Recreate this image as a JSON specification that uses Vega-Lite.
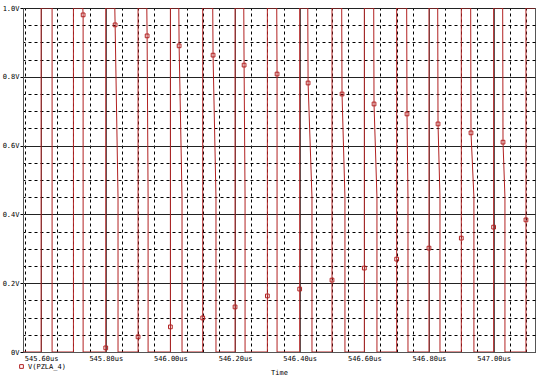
{
  "$schema": "https://vega.github.io/schema/vega-lite/v6.json",
  "width": 512,
  "height": 344,
  "autosize": {"type": "none"},
  "padding": {"left": 23, "top": 8, "right": 15, "bottom": 28},
  "background": "white",
  "config": {
    "view": {"stroke": "#555", "strokeWidth": 1},
    "font": "DejaVu Sans Mono"
  },
  "datasets": {
    "trace": [
      {"i": 0, "t": 545.544, "v": 0},
      {"i": 1, "t": 545.6, "v": 0}, {"i": 2, "t": 545.6, "v": 1}, {"i": 3, "t": 545.634, "v": 1}, {"i": 4, "t": 545.634, "v": 0},
      {"i": 5, "t": 545.7, "v": 0}, {"i": 6, "t": 545.7, "v": 1}, {"i": 7, "t": 545.729, "v": 1}, {"i": 8, "t": 545.73, "v": 0.98}, {"i": 9, "t": 545.73, "v": 0},
      {"i": 10, "t": 545.8, "v": 0}, {"i": 11, "t": 545.8, "v": 1}, {"i": 12, "t": 545.828, "v": 1}, {"i": 13, "t": 545.829, "v": 0.951}, {"i": 14, "t": 545.838, "v": 0.45}, {"i": 15, "t": 545.838, "v": 0},
      {"i": 16, "t": 545.9, "v": 0}, {"i": 17, "t": 545.9, "v": 1}, {"i": 18, "t": 545.927, "v": 1}, {"i": 19, "t": 545.928, "v": 0.919}, {"i": 20, "t": 545.931, "v": 0.45}, {"i": 21, "t": 545.931, "v": 0},
      {"i": 22, "t": 546.0, "v": 0}, {"i": 23, "t": 546.0, "v": 1}, {"i": 24, "t": 546.026, "v": 1}, {"i": 25, "t": 546.027, "v": 0.89}, {"i": 26, "t": 546.036, "v": 0.45}, {"i": 27, "t": 546.036, "v": 0},
      {"i": 28, "t": 546.1, "v": 0}, {"i": 29, "t": 546.1, "v": 1}, {"i": 30, "t": 546.131, "v": 1}, {"i": 31, "t": 546.132, "v": 0.863}, {"i": 32, "t": 546.141, "v": 0.45}, {"i": 33, "t": 546.141, "v": 0},
      {"i": 34, "t": 546.2, "v": 0}, {"i": 35, "t": 546.2, "v": 1}, {"i": 36, "t": 546.227, "v": 1}, {"i": 37, "t": 546.228, "v": 0.834}, {"i": 38, "t": 546.231, "v": 0.45}, {"i": 39, "t": 546.231, "v": 0},
      {"i": 40, "t": 546.3, "v": 0}, {"i": 41, "t": 546.3, "v": 1}, {"i": 42, "t": 546.329, "v": 1}, {"i": 43, "t": 546.33, "v": 0.808}, {"i": 44, "t": 546.33, "v": 0},
      {"i": 45, "t": 546.4, "v": 0}, {"i": 46, "t": 546.4, "v": 1}, {"i": 47, "t": 546.425, "v": 1}, {"i": 48, "t": 546.426, "v": 0.782}, {"i": 49, "t": 546.438, "v": 0.45}, {"i": 50, "t": 546.438, "v": 0},
      {"i": 51, "t": 546.5, "v": 0}, {"i": 52, "t": 546.5, "v": 1}, {"i": 53, "t": 546.53, "v": 1}, {"i": 54, "t": 546.531, "v": 0.75}, {"i": 55, "t": 546.54, "v": 0.45}, {"i": 56, "t": 546.54, "v": 0},
      {"i": 57, "t": 546.6, "v": 0}, {"i": 58, "t": 546.6, "v": 1}, {"i": 59, "t": 546.629, "v": 1}, {"i": 60, "t": 546.63, "v": 0.721}, {"i": 61, "t": 546.639, "v": 0.45}, {"i": 62, "t": 546.639, "v": 0},
      {"i": 63, "t": 546.7, "v": 0}, {"i": 64, "t": 546.7, "v": 1}, {"i": 65, "t": 546.731, "v": 1}, {"i": 66, "t": 546.732, "v": 0.692}, {"i": 67, "t": 546.735, "v": 0.45}, {"i": 68, "t": 546.735, "v": 0},
      {"i": 69, "t": 546.8, "v": 0}, {"i": 70, "t": 546.8, "v": 1}, {"i": 71, "t": 546.827, "v": 1}, {"i": 72, "t": 546.828, "v": 0.663}, {"i": 73, "t": 546.834, "v": 0.45}, {"i": 74, "t": 546.834, "v": 0},
      {"i": 75, "t": 546.9, "v": 0}, {"i": 76, "t": 546.9, "v": 1}, {"i": 77, "t": 546.929, "v": 1}, {"i": 78, "t": 546.93, "v": 0.637}, {"i": 79, "t": 546.939, "v": 0.45}, {"i": 80, "t": 546.939, "v": 0},
      {"i": 81, "t": 547.0, "v": 0}, {"i": 82, "t": 547.0, "v": 1}, {"i": 83, "t": 547.028, "v": 1}, {"i": 84, "t": 547.029, "v": 0.61}, {"i": 85, "t": 547.035, "v": 0.45}, {"i": 86, "t": 547.035, "v": 0},
      {"i": 87, "t": 547.1, "v": 0}, {"i": 88, "t": 547.1, "v": 1}, {"i": 89, "t": 547.128, "v": 1}
    ],
    "markers": [
      {"t": 545.73, "v": 0.98, "s": "V(PZLA_4)"},
      {"t": 545.829, "v": 0.951, "s": "V(PZLA_4)"},
      {"t": 545.928, "v": 0.919, "s": "V(PZLA_4)"},
      {"t": 546.027, "v": 0.89, "s": "V(PZLA_4)"},
      {"t": 546.132, "v": 0.863, "s": "V(PZLA_4)"},
      {"t": 546.228, "v": 0.834, "s": "V(PZLA_4)"},
      {"t": 546.33, "v": 0.808, "s": "V(PZLA_4)"},
      {"t": 546.426, "v": 0.782, "s": "V(PZLA_4)"},
      {"t": 546.531, "v": 0.75, "s": "V(PZLA_4)"},
      {"t": 546.63, "v": 0.721, "s": "V(PZLA_4)"},
      {"t": 546.732, "v": 0.692, "s": "V(PZLA_4)"},
      {"t": 546.828, "v": 0.663, "s": "V(PZLA_4)"},
      {"t": 546.93, "v": 0.637, "s": "V(PZLA_4)"},
      {"t": 547.029, "v": 0.61, "s": "V(PZLA_4)"},
      {"t": 545.8, "v": 0.012, "s": "V(PZLA_4)"},
      {"t": 545.9, "v": 0.044, "s": "V(PZLA_4)"},
      {"t": 546.0, "v": 0.073, "s": "V(PZLA_4)"},
      {"t": 546.1, "v": 0.099, "s": "V(PZLA_4)"},
      {"t": 546.2, "v": 0.131, "s": "V(PZLA_4)"},
      {"t": 546.3, "v": 0.163, "s": "V(PZLA_4)"},
      {"t": 546.4, "v": 0.183, "s": "V(PZLA_4)"},
      {"t": 546.5, "v": 0.209, "s": "V(PZLA_4)"},
      {"t": 546.6, "v": 0.244, "s": "V(PZLA_4)"},
      {"t": 546.7, "v": 0.27, "s": "V(PZLA_4)"},
      {"t": 546.8, "v": 0.302, "s": "V(PZLA_4)"},
      {"t": 546.9, "v": 0.331, "s": "V(PZLA_4)"},
      {"t": 547.0, "v": 0.363, "s": "V(PZLA_4)"},
      {"t": 547.1, "v": 0.384, "s": "V(PZLA_4)"}
    ]
  },
  "resolve": {"axis": {"x": "independent", "y": "independent"}},
  "layer": [
    {
      "data": {"name": "trace"},
      "mark": {"type": "line", "color": "#b22222", "strokeWidth": 1, "clip": true, "interpolate": "linear"},
      "encoding": {
        "x": {
          "field": "t", "type": "quantitative",
          "scale": {"domain": [545.544, 547.128], "nice": false, "zero": false},
          "axis": {
            "orient": "bottom",
            "title": "Time",
            "titleFont": "DejaVu Sans Mono", "titleFontSize": 7, "titleFontWeight": "normal", "titleColor": "#000", "titlePadding": 7,
            "values": [545.6, 545.8, 546.0, 546.2, 546.4, 546.6, 546.8, 547.0],
            "labelExpr": "format(datum.value, '.2f') + 'us'",
            "labelFont": "DejaVu Sans Mono", "labelFontSize": 7, "labelColor": "#000", "labelPadding": 2,
            "grid": true, "gridColor": "#555", "gridWidth": 1, "gridOpacity": 1,
            "ticks": false,
            "domainColor": "#555"
          }
        },
        "y": {
          "field": "v", "type": "quantitative",
          "scale": {"domain": [0, 1], "nice": false},
          "axis": {
            "orient": "left",
            "title": null,
            "values": [0, 0.2, 0.4, 0.6, 0.8, 1.0],
            "labelExpr": "datum.value == 0 ? '0V' : format(datum.value, '.1f') + 'V'",
            "labelFont": "DejaVu Sans Mono", "labelFontSize": 7, "labelColor": "#000", "labelPadding": 1,
            "grid": true, "gridColor": "#222", "gridWidth": 1, "gridOpacity": 1,
            "tickSize": 3, "tickColor": "#000",
            "domainColor": "#555"
          }
        },
        "order": {"field": "i", "type": "quantitative"}
      }
    },
    {
      "data": {"name": "markers"},
      "mark": {"type": "point", "shape": "square", "filled": false, "size": 14, "strokeWidth": 1, "opacity": 1, "clip": true},
      "encoding": {
        "x": {
          "field": "t", "type": "quantitative",
          "axis": {
            "orient": "top", "title": null, "labels": false, "ticks": false, "domain": false,
            "values": [545.55, 545.65, 545.7, 545.75, 545.85, 545.9, 545.95, 546.05, 546.1, 546.15, 546.25, 546.3, 546.35, 546.45, 546.5, 546.55, 546.65, 546.7, 546.75, 546.85, 546.9, 546.95, 547.05, 547.1],
            "grid": true, "gridColor": "#000", "gridDash": [3, 3], "gridWidth": 1, "gridOpacity": 1
          }
        },
        "y": {
          "field": "v", "type": "quantitative",
          "axis": {
            "orient": "right", "title": null, "labels": false, "ticks": false, "domain": false,
            "values": [0.05, 0.1, 0.15, 0.25, 0.3, 0.35, 0.45, 0.5, 0.55, 0.65, 0.7, 0.75, 0.85, 0.9, 0.95],
            "grid": true, "gridColor": "#000", "gridDash": [3, 3], "gridWidth": 1, "gridOpacity": 1
          }
        },
        "color": {
          "field": "s", "type": "nominal",
          "scale": {"range": ["#b22222"]},
          "legend": {
            "title": null, "orient": "none", "legendX": -5, "legendY": 355,
            "symbolType": "square", "symbolSize": 14, "symbolStrokeWidth": 1, "symbolFillColor": "white",
            "labelFont": "DejaVu Sans Mono", "labelFontSize": 7, "labelColor": "#000", "labelOffset": 3
          }
        }
      }
    }
  ]
}
